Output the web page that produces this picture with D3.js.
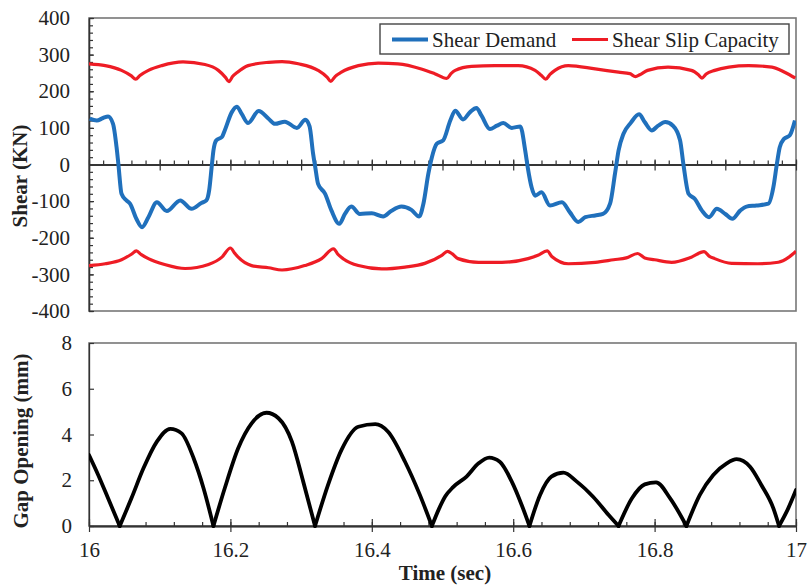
<!DOCTYPE html>
<html><head><meta charset="utf-8">
<script src="https://cdn.jsdelivr.net/npm/d3@7"></script>
<style>body{margin:0;background:#fff}</style>
</head><body><svg id="c" width="808" height="585"></svg>
<script>
// ---------- data ----------
const shearTime = [16.001,16.011,16.020,16.027,16.034,16.039,16.0415,16.046,16.053,16.058,16.067,16.075,16.084,16.096,16.110,16.129,16.145,16.159,16.166,16.170,16.1735,16.176,16.180,16.188,16.192,16.202,16.209,16.216,16.225,16.240,16.254,16.263,16.277,16.294,16.306,16.312,16.317,16.320,16.324,16.334,16.343,16.354,16.362,16.371,16.383,16.400,16.416,16.428,16.442,16.456,16.467,16.473,16.480,16.485,16.492,16.501,16.511,16.518,16.529,16.539,16.548,16.555,16.567,16.577,16.586,16.598,16.610,16.617,16.6205,16.626,16.631,16.640,16.652,16.669,16.680,16.692,16.702,16.716,16.727,16.737,16.744,16.749,16.756,16.766,16.778,16.786,16.796,16.805,16.815,16.826,16.836,16.841,16.848,16.857,16.867,16.877,16.888,16.900,16.910,16.921,16.930,16.944,16.961,16.968,16.973,16.977,16.983,16.991,16.9985];
const shearDemand = [125,120,127,131,111,47,2,-80,-98,-107,-148,-171,-144,-103,-127,-98,-121,-105,-98,-70,-7,38,66,75,93,143,158,138,113,146,125,111,117,100,122,104,29,-7,-53,-80,-126,-162,-135,-115,-135,-133,-142,-126,-115,-124,-142,-107,-25,20,57,66,120,147,123,143,154,134,97,106,113,100,104,38,-7,-62,-85,-76,-112,-103,-130,-157,-144,-139,-135,-107,-25,38,84,113,137,116,93,106,116,106,66,-3,-80,-94,-126,-144,-121,-135,-148,-126,-115,-112,-107,-62,2,47,70,79,120];

const capUpperTime = [16.000,16.023,16.046,16.060,16.066,16.072,16.084,16.103,16.133,16.164,16.183,16.193,16.198,16.203,16.210,16.225,16.254,16.273,16.296,16.324,16.337,16.342,16.348,16.357,16.381,16.409,16.437,16.470,16.489,16.506,16.512,16.518,16.541,16.574,16.607,16.631,16.640,16.646,16.652,16.659,16.678,16.716,16.749,16.765,16.773,16.779,16.790,16.819,16.852,16.862,16.867,16.873,16.885,16.905,16.933,16.966,16.984,16.999];
const capUpper = [275,270,257,242,233,243,257,270,280,273,257,238,226,240,252,270,279,281,275,257,238,227,240,252,270,277,275,261,248,235,248,257,268,270,270,257,243,233,246,257,270,261,252,248,240,245,257,266,257,245,236,247,257,266,270,266,252,236];

const capLowerTime = [16.000,16.023,16.046,16.060,16.067,16.074,16.084,16.107,16.136,16.169,16.188,16.200,16.206,16.211,16.230,16.254,16.273,16.305,16.329,16.346,16.352,16.360,16.381,16.414,16.447,16.475,16.499,16.507,16.514,16.522,16.551,16.584,16.621,16.635,16.648,16.655,16.678,16.716,16.742,16.760,16.776,16.786,16.800,16.824,16.852,16.870,16.877,16.885,16.909,16.946,16.975,16.990,17.000];
const capLower = [-276,-271,-260,-245,-236,-246,-257,-273,-284,-273,-253,-228,-242,-253,-276,-282,-288,-276,-257,-230,-245,-258,-276,-285,-280,-270,-248,-237,-244,-257,-267,-267,-257,-248,-236,-252,-271,-267,-260,-255,-243,-255,-260,-267,-253,-238,-250,-257,-270,-271,-267,-253,-237];

const gapTime = [16.000,16.013,16.027,16.0435,16.060,16.077,16.096,16.115,16.131,16.148,16.162,16.176,16.192,16.211,16.230,16.251,16.268,16.287,16.303,16.3197,16.338,16.357,16.381,16.405,16.423,16.447,16.468,16.485,16.495,16.504,16.515,16.534,16.551,16.566,16.581,16.598,16.612,16.623,16.638,16.654,16.671,16.690,16.713,16.735,16.749,16.768,16.786,16.802,16.822,16.845,16.864,16.883,16.902,16.916,16.935,16.951,16.968,16.976,16.989,17.000];
const gapOpening = [3.1,2.23,1.21,0,1.21,2.52,3.69,4.25,4.05,2.96,1.65,0,1.65,3.4,4.49,4.95,4.71,3.69,1.94,0,1.79,3.32,4.34,4.45,4.12,2.81,1.36,0,0.75,1.3,1.7,2.16,2.74,2.99,2.81,1.94,0.92,0,1.36,2.16,2.33,1.94,1.28,0.48,0,1.21,1.82,1.91,1.21,0,1.36,2.23,2.74,2.92,2.59,1.79,0.77,0,0.77,1.57];

const shearTicks = [-400,-300,-200,-100,0,100,200,300,400];
const shearLabels = ["-400","-300","-200","-100","0","100","200","300","400"];
const gapTicks = [0,2,4,6,8];
const gapLabels = ["0","2","4","6","8"];
const timeTicks = [16,16.2,16.4,16.6,16.8,17];
const timeLabels = ["16","16.2","16.4","16.6","16.8","17"];
const seriesNames = ["Shear Demand","Shear Slip Capacity"];
const seriesColors = ["#2070bc","#ee1c25"];

// ---------- drawing ----------
const FONT = '"Liberation Serif","Times New Roman",serif';
const svg = d3.select('#c').style('font-family', FONT);
const x = d3.scaleLinear().domain([16,17]).range([89,796]);
const yS = d3.scaleLinear().domain([-400,400]).range([311,18]);
const yG = d3.scaleLinear().domain([0,8]).range([526,343]);

svg.append('defs').call(d => {
  d.append('clipPath').attr('id','clipT').append('rect').attr('x',89).attr('y',18).attr('width',707).attr('height',293);
  d.append('clipPath').attr('id','clipB').append('rect').attr('x',89).attr('y',338).attr('width',707).attr('height',190);
});

function styleAxis(g, col){
  g.selectAll('path').attr('stroke', col).attr('stroke-width',1.3);
  g.selectAll('line').attr('stroke', col).attr('stroke-width',1.2);
  g.selectAll('text').attr('font-family',FONT).attr('font-size',21).attr('fill','#222');
}

// ---- top panel frame
svg.append('rect').attr('x',89).attr('y',18).attr('width',707).attr('height',293)
  .attr('fill','none').attr('stroke','#777').attr('stroke-width',1.6);

// left axis (top)
const gTL = svg.append('g').attr('transform','translate(89,0)')
  .call(d3.axisLeft(yS).tickValues(shearTicks).tickSizeInner(-5).tickSizeOuter(0).tickPadding(19).tickFormat((d,i)=>shearLabels[i]));
styleAxis(gTL,'#333');
const gTLm = svg.append('g').attr('transform','translate(89,0)')
  .call(d3.axisLeft(yS).tickValues(d3.range(-400,401,20)).tickSizeInner(-4).tickSizeOuter(0).tickFormat(''));
styleAxis(gTLm,'#333');

// zero axis (top) with crossing ticks
const gZ1 = svg.append('g').attr('transform',`translate(0,${yS(0)})`)
  .call(d3.axisTop(x).tickValues(d3.range(16,17.001,0.02)).tickSizeInner(4).tickSizeOuter(0).tickFormat(''));
styleAxis(gZ1,'#333');
const gZ2 = svg.append('g').attr('transform',`translate(0,${yS(0)})`)
  .call(d3.axisBottom(x).tickValues(d3.range(16,17.001,0.1)).tickSizeInner(6).tickSizeOuter(0).tickFormat(''));
styleAxis(gZ2,'#333');
const gZ3 = svg.append('g').attr('transform',`translate(0,${yS(0)})`)
  .call(d3.axisTop(x).tickValues(d3.range(16,17.001,0.1)).tickSizeInner(5).tickSizeOuter(0).tickFormat(''));
styleAxis(gZ3,'#333');

// lines (top)
const lineT = d3.line().x(d=>x(d[0])).y(d=>yS(d[1])).curve(d3.curveMonotoneX);
const gT = svg.append('g').attr('clip-path','url(#clipT)');
gT.append('path').attr('d', lineT(d3.zip(capUpperTime, capUpper)))
  .attr('fill','none').attr('stroke',seriesColors[1]).attr('stroke-width',3.2).attr('stroke-linejoin','round');
gT.append('path').attr('d', lineT(d3.zip(capLowerTime, capLower)))
  .attr('fill','none').attr('stroke',seriesColors[1]).attr('stroke-width',3.2).attr('stroke-linejoin','round');
gT.append('path').attr('d', lineT(d3.zip(shearTime, shearDemand)))
  .attr('fill','none').attr('stroke',seriesColors[0]).attr('stroke-width',4).attr('stroke-linejoin','round');

// legend
const lg = svg.append('g');
lg.append('rect').attr('x',380).attr('y',24).attr('width',409).attr('height',30)
  .attr('fill','#fff').attr('stroke','#444').attr('stroke-width',1.4);
const legX = [392, 572];
seriesNames.forEach((n,i)=>{
  lg.append('line').attr('x1',legX[i]).attr('x2',legX[i]+36).attr('y1',39.5).attr('y2',39.5)
    .attr('stroke',seriesColors[i]).attr('stroke-width',i===0?4:3.2);
  lg.append('text').attr('x',legX[i]+40).attr('y',47).attr('font-size',21).attr('fill','#222').text(n);
});

// title top y
svg.append('text').attr('transform','translate(27,176) rotate(-90)').attr('text-anchor','middle')
  .attr('font-size',21).attr('font-weight','bold').attr('fill','#222').text('Shear (KN)');

// ---- bottom panel
svg.append('rect').attr('x',89).attr('y',343).attr('width',707).attr('height',183)
  .attr('fill','none').attr('stroke','#777').attr('stroke-width',1.6);
const gBL = svg.append('g').attr('transform','translate(89,0)')
  .call(d3.axisLeft(yG).tickValues(gapTicks).tickSizeInner(-5).tickSizeOuter(0).tickPadding(17).tickFormat((d,i)=>gapLabels[i]));
styleAxis(gBL,'#333');
const gBX1 = svg.append('g').attr('transform','translate(0,526)')
  .call(d3.axisTop(x).tickValues(d3.range(16,17.001,0.04)).tickSizeInner(4).tickSizeOuter(0).tickFormat(''));
styleAxis(gBX1,'#333');
const gBX0 = svg.append('g').attr('transform','translate(0,526)')
  .call(d3.axisTop(x).tickValues(timeTicks).tickSizeInner(7).tickSizeOuter(0).tickFormat(''));
styleAxis(gBX0,'#333');
const gBX = svg.append('g').attr('transform','translate(0,526)')
  .call(d3.axisBottom(x).tickValues(timeTicks).tickSizeInner(6).tickSizeOuter(0).tickPadding(10).tickFormat((d,i)=>timeLabels[i]));
styleAxis(gBX,'#333');

// gap line, drawn arch by arch so the contact points stay sharp
const gapPts = d3.zip(gapTime, gapOpening);
const arches = [];
let cur = [];
gapPts.forEach(p=>{
  cur.push(p);
  if (p[1] === 0 && cur.length > 1) { arches.push(cur); cur = [p]; }
});
if (cur.length > 1) arches.push(cur);
const lineB = d3.line().x(d=>x(d[0])).y(d=>yG(d[1])).curve(d3.curveMonotoneX);
const gB = svg.append('g').attr('clip-path','url(#clipB)');
arches.forEach(a=>{
  gB.append('path').attr('d', lineB(a)).attr('fill','none').attr('stroke','#000')
    .attr('stroke-width',3.8).attr('stroke-linejoin','round').attr('stroke-linecap','round');
});

svg.append('text').attr('transform','translate(28,441) rotate(-90)').attr('text-anchor','middle')
  .attr('font-size',21).attr('font-weight','bold').attr('fill','#222').text('Gap Opening (mm)');
svg.append('text').attr('x',445).attr('y',580).attr('text-anchor','middle')
  .attr('font-size',21).attr('font-weight','bold').attr('fill','#222').text('Time (sec)');
</script>
</body></html>
